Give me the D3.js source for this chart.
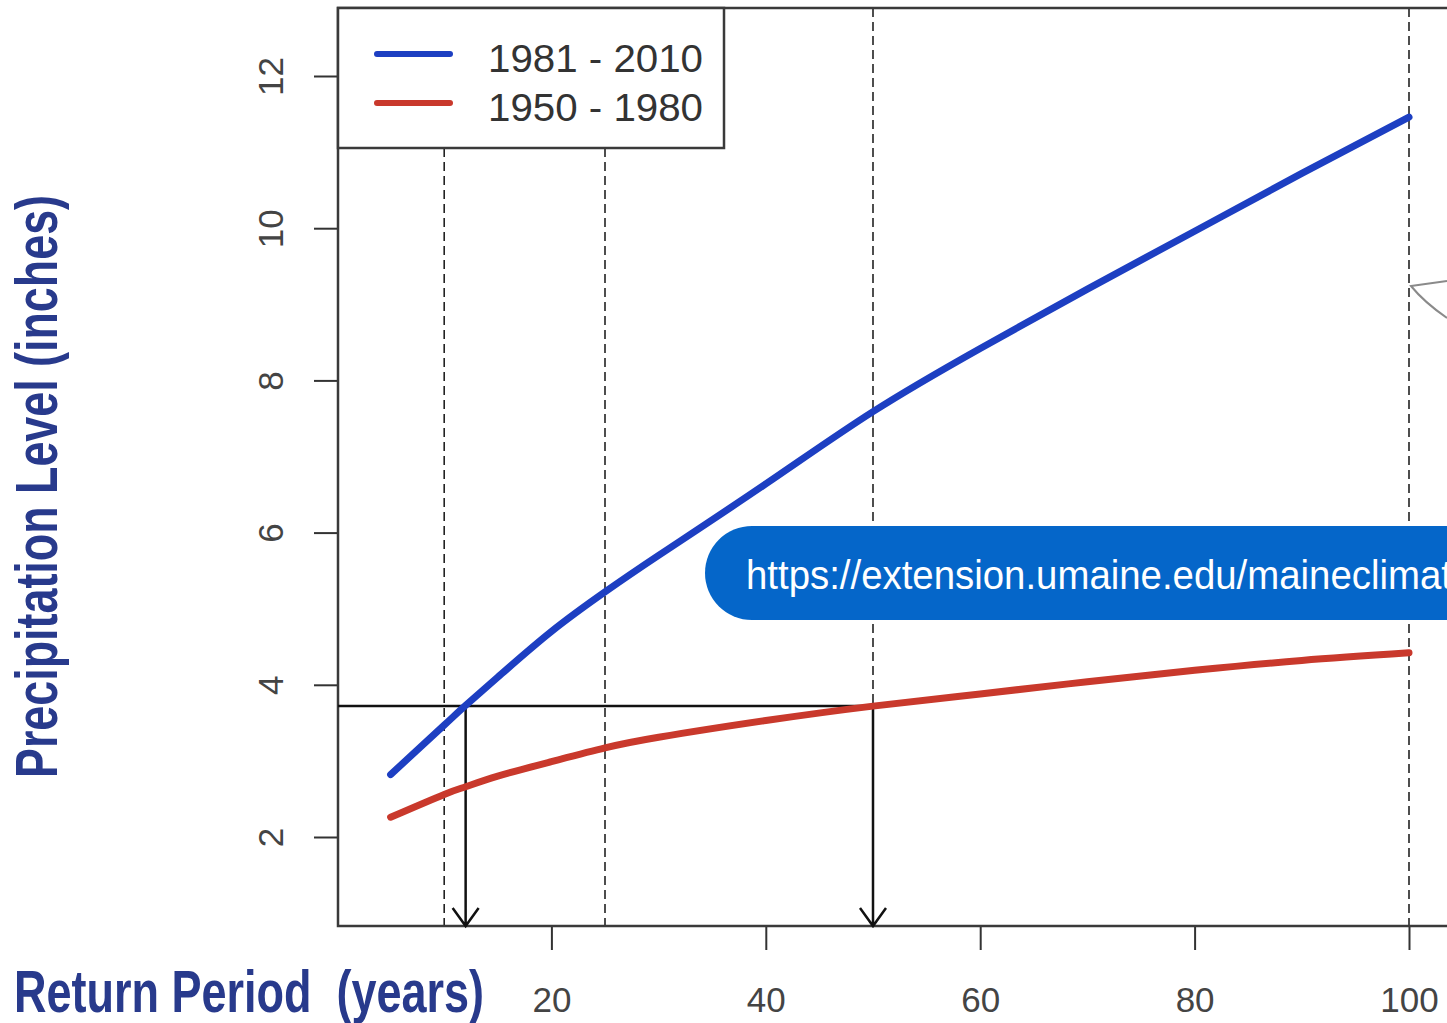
<!DOCTYPE html>
<html>
<head>
<meta charset="utf-8">
<script src="https://cdn.jsdelivr.net/npm/d3@7"></script>
<style>
    html, body { margin: 0; padding: 0; background: #fff; overflow: hidden; }
    svg { display: block; font-family: "Liberation Sans", Arial, sans-serif; }
</style>
</head>
<body>
<div id="chart"></div>
<script>
const returnPeriods = [5, 10, 12, 15, 20, 25, 30, 40, 50, 60, 70, 80, 90, 100];
const level1981 = [2.82, 3.47, 3.73, 4.10, 4.70, 5.22, 5.70, 6.64, 7.59, 8.42, 9.20, 9.96, 10.72, 11.46];
const level1950 = [2.26, 2.56, 2.66, 2.80, 2.99, 3.17, 3.31, 3.53, 3.72, 3.88, 4.04, 4.19, 4.32, 4.42];
const seriesNames = ["1981 - 2010", "1950 - 1980"];
const xTicks = [20, 40, 60, 80, 100];
const yTicks = [2, 4, 6, 8, 10, 12];
const guidePeriods = [10, 25, 50, 100];
const refLevel = 3.72;
const arrowPeriods = [12, 50];
const linkText = "https://extension.umaine.edu/maineclimat";

const width = 1447;
const height = 1023;
const plot = { left: 338, top: 8, bottom: 926, right: 1500 };

const svg = d3.select("#chart").append("svg")
    .attr("width", width)
    .attr("height", height);

const x = d3.scaleLinear().domain([0, 100]).range([337, 1409]);
const y = d3.scaleLinear().domain([2, 12]).range([837, 76]);

const color = d3.scaleOrdinal()
    .domain(seriesNames)
    .range(["#1d3fc2", "#c9392c"]);

// dashed return-period guides
svg.append("g")
    .selectAll("line")
    .data(guidePeriods)
    .join("line")
    .attr("x1", d => x(d)).attr("x2", d => x(d))
    .attr("y1", plot.top).attr("y2", plot.bottom)
    .attr("stroke", "#222")
    .attr("stroke-width", 1.6)
    .attr("stroke-dasharray", "9,5");

// axes
const xAxis = svg.append("g")
    .attr("transform", `translate(0,${plot.bottom})`)
    .call(d3.axisBottom(x).tickValues(xTicks).tickSize(24).tickPadding(37));
xAxis.select(".domain").remove();
xAxis.selectAll("line").attr("stroke", "#333").attr("stroke-width", 2);
xAxis.selectAll("text")
    .attr("fill", "#444")
    .style("font-size", "35px")
    .style("font-family", "'Liberation Sans', Arial, sans-serif");

const yAxis = svg.append("g")
    .attr("transform", `translate(${plot.left},0)`)
    .call(d3.axisLeft(y).tickValues(yTicks).tickSize(24));
yAxis.select(".domain").remove();
yAxis.selectAll("line").attr("stroke", "#333").attr("stroke-width", 2);
yAxis.selectAll("text")
    .attr("x", 0)
    .attr("y", -55)
    .attr("dy", 0)
    .attr("transform", "rotate(-90)")
    .attr("text-anchor", "middle")
    .attr("fill", "#444")
    .style("font-size", "35px")
    .style("font-family", "'Liberation Sans', Arial, sans-serif");

// plot frame
svg.append("rect")
    .attr("x", plot.left)
    .attr("y", plot.top)
    .attr("width", plot.right - plot.left)
    .attr("height", plot.bottom - plot.top)
    .attr("fill", "none")
    .attr("stroke", "#3a3a3a")
    .attr("stroke-width", 2.5);

// reference level + arrows
const arrows = svg.append("g").attr("stroke", "#111").attr("stroke-width", 2.5).attr("fill", "none");
arrows.append("line")
    .attr("x1", plot.left).attr("x2", x(50))
    .attr("y1", y(refLevel)).attr("y2", y(refLevel));
arrows.selectAll("path.arrow")
    .data(arrowPeriods)
    .join("path")
    .attr("class", "arrow")
    .attr("d", d => `M${x(d)},${y(refLevel)}V${plot.bottom}`
        + `M${x(d) - 13},${plot.bottom - 18}L${x(d)},${plot.bottom}L${x(d) + 13},${plot.bottom - 18}`);

// curves
const line = d3.line()
    .x(d => x(d[0]))
    .y(d => y(d[1]))
    .curve(d3.curveNatural);

const series = [
    { name: seriesNames[0], values: d3.zip(returnPeriods, level1981) },
    { name: seriesNames[1], values: d3.zip(returnPeriods, level1950) }
];

svg.append("g")
    .selectAll("path")
    .data(series.slice().reverse())
    .join("path")
    .attr("d", d => line(d.values))
    .attr("fill", "none")
    .attr("stroke", d => color(d.name))
    .attr("stroke-width", 7)
    .attr("stroke-linecap", "round");

// legend
const legend = svg.append("g");
legend.append("rect")
    .attr("x", plot.left)
    .attr("y", plot.top)
    .attr("width", 386)
    .attr("height", 140)
    .attr("fill", "#fff")
    .attr("stroke", "#3a3a3a")
    .attr("stroke-width", 2.5);

const legendItem = legend.selectAll("g.item")
    .data(seriesNames)
    .join("g")
    .attr("class", "item")
    .attr("transform", (d, i) => `translate(0,${54 + i * 49})`);

legendItem.append("line")
    .attr("x1", 377).attr("x2", 450)
    .attr("stroke", d => color(d))
    .attr("stroke-width", 6)
    .attr("stroke-linecap", "round");

legendItem.append("text")
    .attr("x", 488)
    .attr("y", 18)
    .attr("fill", "#333")
    .attr("textLength", 215)
    .attr("lengthAdjust", "spacingAndGlyphs")
    .style("font-size", "39px")
    .text(d => d);

// little callout fragment at the right edge
svg.append("path")
    .attr("d", "M1447,281L1411,286Q1424,302 1447,318")
    .attr("fill", "none")
    .attr("stroke", "#8a8a8a")
    .attr("stroke-width", 2);

// url banner
const banner = svg.append("g");
banner.append("rect")
    .attr("x", 705)
    .attr("y", 526)
    .attr("width", 900)
    .attr("height", 94)
    .attr("rx", 47)
    .attr("fill", "#0566c9");
banner.append("text")
    .attr("x", 746)
    .attr("y", 589)
    .attr("fill", "#fff")
    .attr("textLength", 706)
    .attr("lengthAdjust", "spacingAndGlyphs")
    .style("font-size", "41px")
    .text(linkText);

// axis titles
svg.append("text")
    .attr("x", 14)
    .attr("y", 1012)
    .attr("fill", "#283a8c")
    .attr("font-weight", "bold")
    .attr("textLength", 470)
    .attr("lengthAdjust", "spacingAndGlyphs")
    .style("font-size", "60px")
    .style("white-space", "pre")
    .text("Return Period  (years)");

svg.append("text")
    .attr("transform", "translate(57,778) rotate(-90)")
    .attr("fill", "#283a8c")
    .attr("font-weight", "bold")
    .attr("textLength", 583)
    .attr("lengthAdjust", "spacingAndGlyphs")
    .style("font-size", "60px")
    .text("Precipitation Level (inches)");
</script>
</body>
</html>
